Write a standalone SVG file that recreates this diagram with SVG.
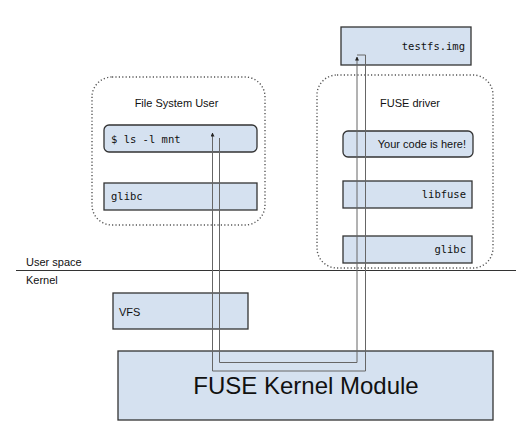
<svg xmlns="http://www.w3.org/2000/svg" width="516" height="438" viewBox="0 0 516 438">
<style>
.box{fill:#d5e1f0;stroke:#333;stroke-width:1.3}
.dot{fill:none;stroke:#555;stroke-width:1.4;stroke-dasharray:1.2,2.2}
.sans{font-family:"Liberation Sans",Arial,sans-serif;font-size:11px;fill:#111}
.mono{font-family:"DejaVu Sans Mono",monospace;font-size:10.5px;fill:#111}
.conn{fill:none;stroke:#666;stroke-width:1}
</style>
<defs>
<marker id="arr" markerWidth="4" markerHeight="4" refX="3.5" refY="2" orient="auto" markerUnits="userSpaceOnUse">
<path d="M0,0 L4,2 L0,4 z" fill="#222"/>
</marker>
</defs>
<rect width="516" height="438" fill="#fff"/>
<g id="fs-user-group">
<rect class="dot" x="92" y="77" width="173" height="148" rx="20"/>
<text class="sans" x="176.5" y="107" text-anchor="middle">File System User</text>
</g>
<g id="fuse-driver-group">
<rect class="dot" x="317" y="75" width="176" height="193" rx="20"/>
<text class="sans" x="410" y="107" text-anchor="middle">FUSE driver</text>
</g>
<g id="testfs">
<rect class="box" x="341" y="27" width="130" height="38"/>
<text class="mono" x="465" y="50" text-anchor="end">testfs.img</text>
</g>
<g id="ls">
<rect class="box" x="104" y="125" width="153" height="27" rx="5"/>
<text class="mono" x="111" y="143">$ ls -l mnt</text>
</g>
<g id="glibc-user">
<rect class="box" x="104" y="183" width="153" height="27"/>
<text class="mono" x="111" y="200">glibc</text>
</g>
<g id="your-code">
<rect class="box" x="343" y="131" width="130" height="26" rx="5"/>
<text class="sans" x="466" y="148" text-anchor="end">Your code is here!</text>
</g>
<g id="libfuse">
<rect class="box" x="343" y="181" width="129" height="27"/>
<text class="mono" x="466" y="198" text-anchor="end">libfuse</text>
</g>
<g id="glibc-fuse">
<rect class="box" x="343" y="236" width="129" height="27"/>
<text class="mono" x="466" y="253" text-anchor="end">glibc</text>
</g>
<g id="boundary">
<line x1="16" y1="270.5" x2="516" y2="270.5" stroke="#333" stroke-width="1.2"/>
<text class="sans" x="26" y="266">User space</text>
<text class="sans" x="26" y="284">Kernel</text>
</g>
<g id="vfs">
<rect class="box" x="113" y="293" width="135" height="36"/>
<text class="sans" x="119" y="316">VFS</text>
</g>
<g id="fuse-kernel">
<rect class="box" x="118" y="351" width="375" height="69"/>
<text x="306" y="394" text-anchor="middle" style="font-family:'Liberation Sans',Arial,sans-serif;font-size:24px;fill:#111">FUSE Kernel Module</text>
</g>
<g id="connectors">
<path class="conn" d="M219.5,138 V362.5 H357 V57" marker-end="url(#arr)"/>
<path class="conn" d="M357,55 H365.5 V371 H212.5 V133" marker-end="url(#arr)"/>
</g>
</svg>
